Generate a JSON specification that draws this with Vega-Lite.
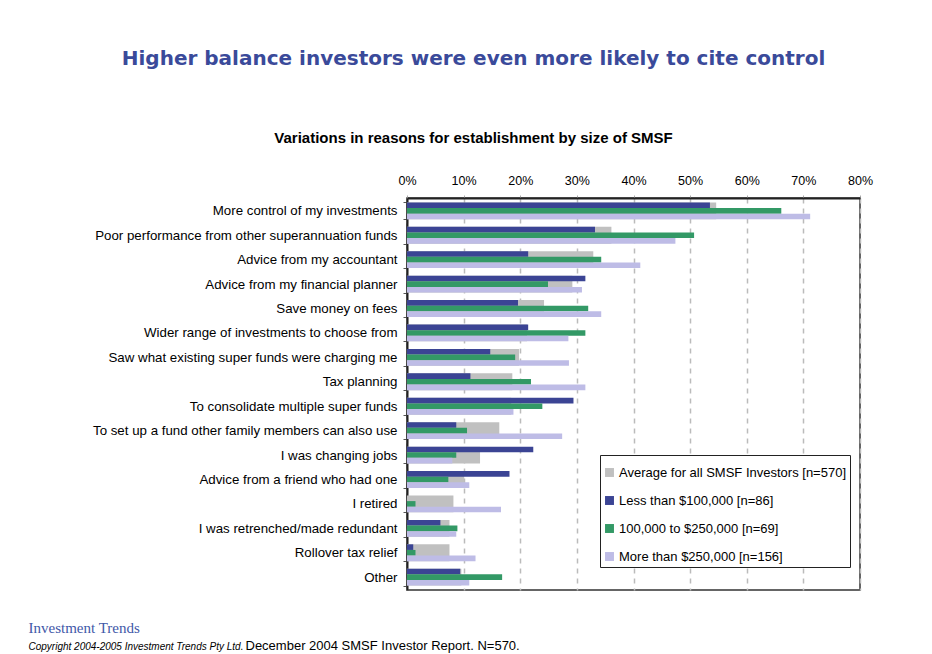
{
  "$schema": "https://vega.github.io/schema/vega-lite/v6.json",
  "width": 453,
  "height": 392,
  "autosize": "none",
  "padding": {"left": 407, "top": 198, "right": 72, "bottom": 64},
  "background": "white",
  "config": {"view": {"stroke": "#333", "strokeWidth": 1.5}},
  "title": {
    "text": "Higher balance investors were even more likely to cite control",
    "subtitle": "Variations in reasons for establishment by size of SMSF",
    "anchor": "middle",
    "frame": "group",
    "dx": -160,
    "offset": 28,
    "font": "DejaVu Sans",
    "fontSize": 20,
    "fontWeight": "bold",
    "color": "#3A4A9A",
    "subtitleFont": "Liberation Sans",
    "subtitleFontSize": 15,
    "subtitleFontWeight": "bold",
    "subtitleColor": "black",
    "subtitlePadding": 62
  },
  "data": {
    "values": [
      {"reason": "More control of my investments", "series": "Average for all SMSF Investors [n=570]", "value": 54.6},
      {"reason": "More control of my investments", "series": "Less than $100,000 [n=86]", "value": 53.5},
      {"reason": "More control of my investments", "series": "100,000 to $250,000 [n=69]", "value": 66.1},
      {"reason": "More control of my investments", "series": "More than $250,000 [n=156]", "value": 71.2},
      {"reason": "Poor performance from other superannuation funds", "series": "Average for all SMSF Investors [n=570]", "value": 36.1},
      {"reason": "Poor performance from other superannuation funds", "series": "Less than $100,000 [n=86]", "value": 33.2},
      {"reason": "Poor performance from other superannuation funds", "series": "100,000 to $250,000 [n=69]", "value": 50.7},
      {"reason": "Poor performance from other superannuation funds", "series": "More than $250,000 [n=156]", "value": 47.4},
      {"reason": "Advice from my accountant", "series": "Average for all SMSF Investors [n=570]", "value": 32.9},
      {"reason": "Advice from my accountant", "series": "Less than $100,000 [n=86]", "value": 21.4},
      {"reason": "Advice from my accountant", "series": "100,000 to $250,000 [n=69]", "value": 34.3},
      {"reason": "Advice from my accountant", "series": "More than $250,000 [n=156]", "value": 41.2},
      {"reason": "Advice from my financial planner", "series": "Average for all SMSF Investors [n=570]", "value": 29.2},
      {"reason": "Advice from my financial planner", "series": "Less than $100,000 [n=86]", "value": 31.5},
      {"reason": "Advice from my financial planner", "series": "100,000 to $250,000 [n=69]", "value": 24.9},
      {"reason": "Advice from my financial planner", "series": "More than $250,000 [n=156]", "value": 30.9},
      {"reason": "Save money on fees", "series": "Average for all SMSF Investors [n=570]", "value": 24.2},
      {"reason": "Save money on fees", "series": "Less than $100,000 [n=86]", "value": 19.6},
      {"reason": "Save money on fees", "series": "100,000 to $250,000 [n=69]", "value": 32.0},
      {"reason": "Save money on fees", "series": "More than $250,000 [n=156]", "value": 34.3},
      {"reason": "Wider range of investments to choose from", "series": "Average for all SMSF Investors [n=570]", "value": 21.2},
      {"reason": "Wider range of investments to choose from", "series": "Less than $100,000 [n=86]", "value": 21.4},
      {"reason": "Wider range of investments to choose from", "series": "100,000 to $250,000 [n=69]", "value": 31.5},
      {"reason": "Wider range of investments to choose from", "series": "More than $250,000 [n=156]", "value": 28.5},
      {"reason": "Saw what existing super funds were charging me", "series": "Average for all SMSF Investors [n=570]", "value": 19.8},
      {"reason": "Saw what existing super funds were charging me", "series": "Less than $100,000 [n=86]", "value": 14.7},
      {"reason": "Saw what existing super funds were charging me", "series": "100,000 to $250,000 [n=69]", "value": 19.1},
      {"reason": "Saw what existing super funds were charging me", "series": "More than $250,000 [n=156]", "value": 28.6},
      {"reason": "Tax planning", "series": "Average for all SMSF Investors [n=570]", "value": 18.6},
      {"reason": "Tax planning", "series": "Less than $100,000 [n=86]", "value": 11.2},
      {"reason": "Tax planning", "series": "100,000 to $250,000 [n=69]", "value": 21.9},
      {"reason": "Tax planning", "series": "More than $250,000 [n=156]", "value": 31.5},
      {"reason": "To consolidate multiple super funds", "series": "Average for all SMSF Investors [n=570]", "value": 18.4},
      {"reason": "To consolidate multiple super funds", "series": "Less than $100,000 [n=86]", "value": 29.4},
      {"reason": "To consolidate multiple super funds", "series": "100,000 to $250,000 [n=69]", "value": 23.9},
      {"reason": "To consolidate multiple super funds", "series": "More than $250,000 [n=156]", "value": 18.8},
      {"reason": "To set up a fund other family members can also use", "series": "Average for all SMSF Investors [n=570]", "value": 16.3},
      {"reason": "To set up a fund other family members can also use", "series": "Less than $100,000 [n=86]", "value": 8.7},
      {"reason": "To set up a fund other family members can also use", "series": "100,000 to $250,000 [n=69]", "value": 10.6},
      {"reason": "To set up a fund other family members can also use", "series": "More than $250,000 [n=156]", "value": 27.4},
      {"reason": "I was changing jobs", "series": "Average for all SMSF Investors [n=570]", "value": 12.9},
      {"reason": "I was changing jobs", "series": "Less than $100,000 [n=86]", "value": 22.3},
      {"reason": "I was changing jobs", "series": "100,000 to $250,000 [n=69]", "value": 8.7},
      {"reason": "I was changing jobs", "series": "More than $250,000 [n=156]", "value": 8.0},
      {"reason": "Advice from a friend who had one", "series": "Average for all SMSF Investors [n=570]", "value": 10.1},
      {"reason": "Advice from a friend who had one", "series": "Less than $100,000 [n=86]", "value": 18.1},
      {"reason": "Advice from a friend who had one", "series": "100,000 to $250,000 [n=69]", "value": 7.3},
      {"reason": "Advice from a friend who had one", "series": "More than $250,000 [n=156]", "value": 11.0},
      {"reason": "I retired", "series": "Average for all SMSF Investors [n=570]", "value": 8.2},
      {"reason": "I retired", "series": "Less than $100,000 [n=86]", "value": 0},
      {"reason": "I retired", "series": "100,000 to $250,000 [n=69]", "value": 1.5},
      {"reason": "I retired", "series": "More than $250,000 [n=156]", "value": 16.6},
      {"reason": "I was retrenched/made redundant", "series": "Average for all SMSF Investors [n=570]", "value": 7.5},
      {"reason": "I was retrenched/made redundant", "series": "Less than $100,000 [n=86]", "value": 5.9},
      {"reason": "I was retrenched/made redundant", "series": "100,000 to $250,000 [n=69]", "value": 8.9},
      {"reason": "I was retrenched/made redundant", "series": "More than $250,000 [n=156]", "value": 8.7},
      {"reason": "Rollover tax relief", "series": "Average for all SMSF Investors [n=570]", "value": 7.5},
      {"reason": "Rollover tax relief", "series": "Less than $100,000 [n=86]", "value": 1.1},
      {"reason": "Rollover tax relief", "series": "100,000 to $250,000 [n=69]", "value": 1.5},
      {"reason": "Rollover tax relief", "series": "More than $250,000 [n=156]", "value": 12.1},
      {"reason": "Other", "series": "Average for all SMSF Investors [n=570]", "value": 9.6},
      {"reason": "Other", "series": "Less than $100,000 [n=86]", "value": 9.4},
      {"reason": "Other", "series": "100,000 to $250,000 [n=69]", "value": 16.8},
      {"reason": "Other", "series": "More than $250,000 [n=156]", "value": 11.0}
    ]
  },
  "resolve": {"axis": {"x": "independent", "y": "independent"}},
  "layer": [
    {
      "transform": [{"filter": "datum.series === 'Average for all SMSF Investors [n=570]'"}],
      "mark": {"type": "bar"},
      "encoding": {
        "y": {
          "field": "reason", "type": "nominal", "sort": null,
          "scale": {"paddingInner": 0.31, "paddingOuter": 0.18},
          "axis": {
            "orient": "left",
            "title": "Investment Trends",
            "titleAngle": 0, "titleX": -379, "titleY": 434,
            "titleAlign": "left", "titleBaseline": "alphabetic",
            "titleFont": "Liberation Serif", "titleFontWeight": "normal",
            "titleFontSize": 15, "titleColor": "#3F58A8",
            "labelFont": "Liberation Sans", "labelFontSize": 13.3, "labelColor": "black",
            "labelPadding": 6, "labelLimit": 400,
            "tickBand": "extent", "tickSize": 4, "tickColor": "#555",
            "domainColor": "#222", "domainWidth": 2
          }
        },
        "x": {
          "field": "value", "type": "quantitative",
          "scale": {"domain": [0, 80], "nice": false},
          "axis": {
            "orient": "top", "title": null,
            "values": [0, 10, 20, 30, 40, 50, 60, 70, 80],
            "labelExpr": "datum.value + '%'",
            "labelFlush": false,
            "labelFont": "Liberation Sans", "labelFontSize": 12.5, "labelColor": "black",
            "labelPadding": 8,
            "grid": true, "gridDash": [5, 5], "gridColor": "#bbb", "gridWidth": 1.5,
            "tickSize": 3, "tickColor": "#aaa",
            "domainColor": "#222", "domainWidth": 2
          }
        },
        "color": {
          "field": "series", "type": "nominal",
          "scale": {
            "domain": ["Average for all SMSF Investors [n=570]", "Less than $100,000 [n=86]", "100,000 to $250,000 [n=69]", "More than $250,000 [n=156]"],
            "range": ["#C0C0C0", "#3B4494", "#339966", "#BEBCE6"]
          },
          "legend": {
            "orient": "none", "legendX": 193, "legendY": 257,
            "title": " ", "titleFontSize": 7, "titlePadding": 1,
            "fillColor": "white", "strokeColor": "#222", "padding": 3,
            "symbolType": "square", "symbolSize": 80, "symbolStrokeWidth": 0,
            "labelFont": "Liberation Sans", "labelFontSize": 13, "labelColor": "black",
            "labelOffset": 3,
            "labelLimit": 400, "rowPadding": 14
          }
        }
      }
    },
    {
      "transform": [{"filter": "datum.series !== 'Average for all SMSF Investors [n=570]'"}],
      "mark": {"type": "bar"},
      "encoding": {
        "y": {
          "field": "reason", "type": "nominal", "sort": null,
          "axis": {
            "orient": "right", "labels": false, "ticks": false, "domain": false, "grid": false,
            "title": "December 2004 SMSF Investor Report. N=570.",
            "titleAngle": 0, "titleX": -615, "titleY": 451,
            "titleAlign": "left", "titleBaseline": "alphabetic",
            "titleFont": "Liberation Sans", "titleFontWeight": "normal",
            "titleFontSize": 13, "titleColor": "black"
          }
        },
        "yOffset": {
          "field": "series", "type": "nominal",
          "scale": {"domain": ["Less than $100,000 [n=86]", "100,000 to $250,000 [n=69]", "More than $250,000 [n=156]"], "paddingInner": 0, "paddingOuter": 0}
        },
        "x": {
          "field": "value", "type": "quantitative",
          "axis": {
            "orient": "bottom", "labels": false, "ticks": false, "domain": false, "grid": false,
            "title": "Copyright 2004-2005 Investment Trends Pty Ltd.",
            "titleX": -379, "titleY": 59,
            "titleAlign": "left", "titleBaseline": "alphabetic",
            "titleFont": "Liberation Sans", "titleFontWeight": "normal", "titleFontStyle": "italic",
            "titleFontSize": 10, "titleColor": "black"
          }
        },
        "color": {"field": "series", "type": "nominal"}
      }
    }
  ]
}
